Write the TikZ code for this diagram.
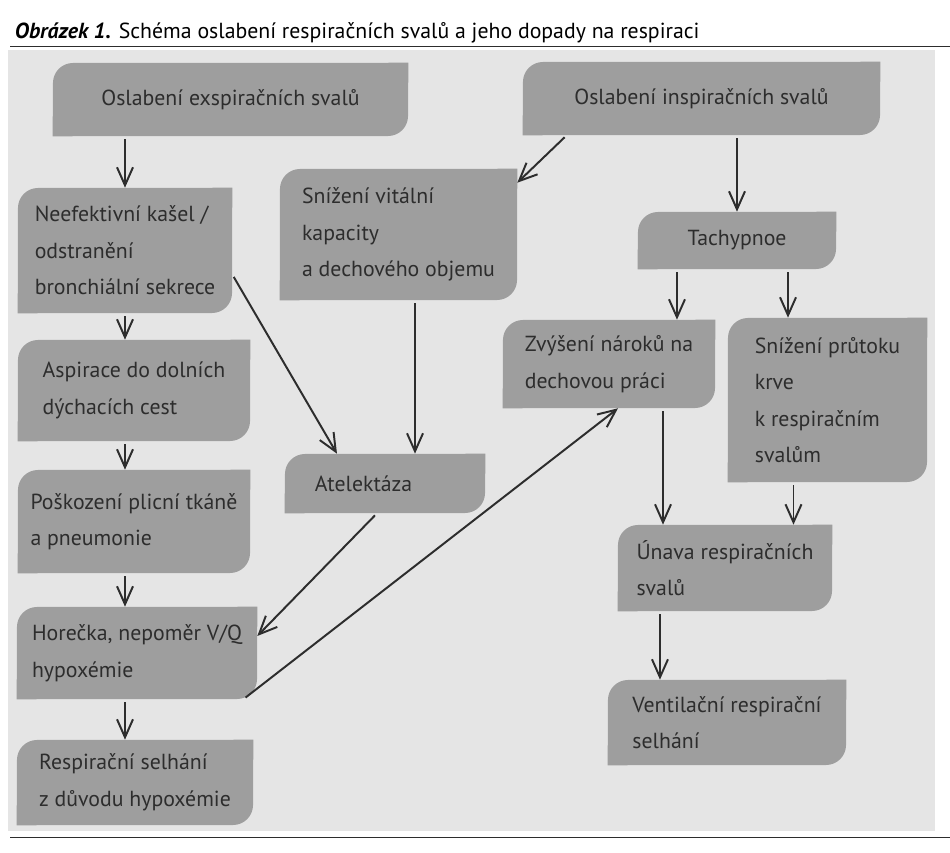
\documentclass[tikz,border=0pt]{standalone}
\usepackage{fontspec}
\setmainfont{PT Sans}
\usepackage{xcolor}
\usetikzlibrary{arrows.meta,positioning,calc}
\pgfdeclarelayer{background}
\pgfsetlayers{background,main}
\definecolor{panelgray}{RGB}{229,229,229}
\definecolor{boxgray}{RGB}{158,158,158}
\definecolor{textgray}{RGB}{45,45,45}
\definecolor{arrowgray}{RGB}{45,45,45}

\begin{document}
\begin{tikzpicture}[x=0.025cm,y=-0.025cm,>={Straight Barb[length=4.5mm,width=4mm]},every node/.style={font=\fontsize{15.5}{26}\selectfont}]
\tikzstyle{box}=[fill=boxgray,rounded corners=0.5cm,text=textgray,align=left,inner sep=0pt]
\tikzstyle{arr}=[->,line width=1.4pt,draw=arrowgray,shorten <=2pt]
\useasboundingbox (0,0) rectangle (950,853);
\begin{pgfonlayer}{background}
\fill[panelgray] (8,50) rectangle (935,831);
\end{pgfonlayer}
\draw[line width=0.6pt,arrowgray] (10,46) -- (950,46);
\draw[line width=0.6pt,arrowgray] (10,837) -- (950,837);
\node[anchor=base west,font=\fontsize{15.5}{18}\selectfont] (title) at (10,39) {\textbf{\textit{Obrázek 1.}} Schéma oslabení respiračních svalů a jeho dopady na respiraci};
% top row
\node[box,align=center,minimum width=8.875cm,minimum height=1.825cm] (exp) at (230.5,99.5) {Oslabení exspiračních svalů};
\node[box,align=center,minimum width=8.925cm,minimum height=1.825cm] (insp) at (701.5,98.5) {Oslabení inspiračních svalů};
% left column
\node[box,minimum width=5.35cm,minimum height=3.125cm] (kasel) at (125,250.5) {Neefektivní kašel /\\odstranění\\bronchiální sekrece};
\node[box,minimum width=5.8cm,minimum height=2.525cm] (aspir) at (134,390.5) {Aspirace do dolních\\dýchacích cest};
\node[box,minimum width=5.8cm,minimum height=2.575cm] (poskoz) at (134,521.5) {Poškození plicní tkáně\\a pneumonie};
\node[box,minimum width=6cm,minimum height=2.3cm] (horecka) at (137,653) {Horečka, nepoměr V/Q\\hypoxémie};
\node[box,minimum width=5.9cm,minimum height=2.125cm] (selh) at (135,782.5) {Respirační selhání\\z důvodu hypoxémie};
% middle
\node[box,minimum width=5.925cm,minimum height=3.275cm] (vit) at (398.5,234.5) {Snížení vitální\\kapacity\\a dechového objemu};
\node[box,text width=3.5cm,minimum width=5cm,minimum height=1.475cm] (atel) at (385,483.5) {Atelektáza};
% right side
\node[box,align=center,minimum width=4.95cm,minimum height=1.425cm] (tachy) at (737,240.5) {Tachypnoe};
\node[box,minimum width=5.3cm,minimum height=2.2cm] (prace) at (609,364) {Zvýšení nároků na\\dechovou práci};
\node[box,minimum width=4.975cm,minimum height=4.1cm] (prutok) at (827.5,400) {Snížení průtoku\\krve\\k respiračním\\svalům};
\node[box,minimum width=5.35cm,minimum height=2.15cm] (unava) at (725,568) {Únava respiračních\\svalů};
\node[box,minimum width=5.95cm,minimum height=2.125cm] (vent) at (727,722.5) {Ventilační respirační\\selhání};
% square off the top right and bottom left corners
\begin{pgfonlayer}{background}
\foreach \n in {exp,insp,kasel,aspir,poskoz,horecka,selh,vit,atel,tachy,prace,prutok,unava,vent}
  \fill[boxgray] (\n.north east) rectangle ++(-20,20) (\n.south west) rectangle ++(20,-20);
\end{pgfonlayer}
% arrows
\foreach \a/\b in {exp/kasel,kasel/aspir,aspir/poskoz,poskoz/horecka,horecka/selh}
  \draw[arr] (\a.south -| kasel.south) -- (\b.north -| kasel.south);
\draw[arr] ([xshift=1.1cm]insp.south west) -- ([yshift=-0.35cm]vit.north east);
\draw[arr] (tachy.north |- insp.south) -- (tachy.north);
\draw[arr] ([xshift=-1.5cm]tachy.south) -- ([xshift=-1.5cm]tachy.south |- prace.north);
\draw[arr] ([xshift=1.275cm]tachy.south) -- ([xshift=1.275cm]tachy.south |- prutok.north);
\draw[arr] ([yshift=-0.6cm]kasel.east) -- ([xshift=-1.2cm]atel.north);
\draw[arr] ([xshift=0.75cm]atel.north |- vit.south) -- ([xshift=0.75cm]atel.north);
\draw[arr] ([xshift=-0.2cm]atel.south) -- ([yshift=0.425cm]horecka.east);
\draw[arr] ([xshift=-0.35cm]horecka.south east) -- ([xshift=0.225cm]prace.south);
\draw[arr] ([xshift=1.35cm]prace.south) -- ([xshift=1.35cm]prace.south |- unava.north);
\draw[arr] ([xshift=-0.85cm]prutok.south) -- ([xshift=-0.85cm]prutok.south |- unava.north);
\draw[arr] ([xshift=-1.625cm]unava.south) -- ([xshift=-1.625cm]unava.south |- vent.north);
\end{tikzpicture}
\end{document}
